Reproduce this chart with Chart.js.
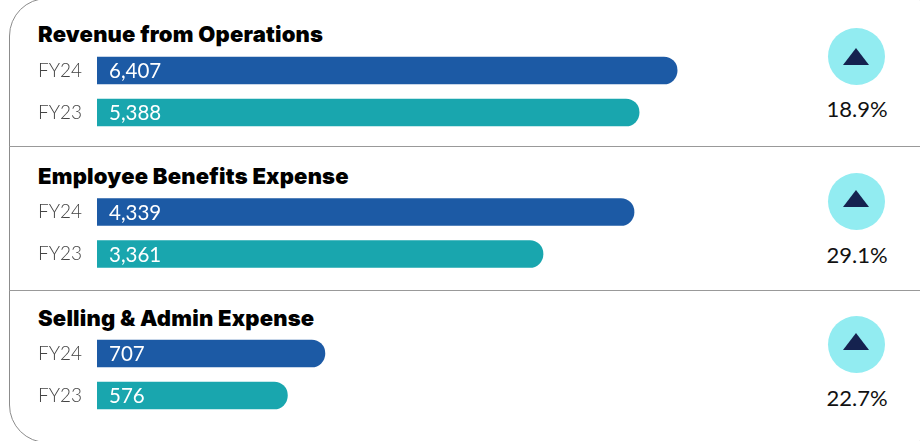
<!DOCTYPE html>
<html>
<head>
<meta charset="utf-8">
<script src="https://cdn.jsdelivr.net/npm/chart.js@4"></script>
<style>
  html, body { margin: 0; padding: 0; background: #fff; }
  body { position: relative; width: 920px; height: 441px; overflow: hidden; font-family: Lato, sans-serif; }
  .frame { position: absolute; left: 9px; top: -2px; width: 940px; height: 445px; border: 1px solid #8c8c8c; border-radius: 38px; box-sizing: border-box; }
  .divider { position: absolute; left: 9px; width: 911px; height: 1px; background: #999; }
  .title { position: absolute; left: 38px; font-family: Inter, sans-serif; font-size: 22px; font-weight: 900; letter-spacing: 0.2px; color: #000; line-height: 28px; white-space: nowrap; }
  .circle { position: absolute; left: 828px; width: 57px; height: 57px; border-radius: 50%; background: #92ecf1; }
  .triangle { position: absolute; left: 843px; width: 0; height: 0; border-left: 13px solid transparent; border-right: 13px solid transparent; border-bottom: 17.5px solid #15224f; }
  .pct { position: absolute; left: 796px; width: 122px; text-align: center; font-size: 22px; font-weight: 400; color: #111; line-height: 28px; }
  canvas { position: absolute; left: 0; }
</style>
</head>
<body>
<div class="frame"></div>
<div class="divider" style="top:146px"></div>
<div class="divider" style="top:290px"></div>
<canvas id="chart0" width="700" height="85" style="top:49px"></canvas>
<canvas id="chart1" width="700" height="85" style="top:191px"></canvas>
<canvas id="chart2" width="700" height="85" style="top:332px"></canvas>
<script>
const titles = ['Revenue from Operations', 'Employee Benefits Expense', 'Selling & Admin Expense']
const years = ['FY24', 'FY23']
const revenue = [6407, 5388]
const employee = [4339, 3361]
const selling = [707, 576]
const growth = ['18.9%', '29.1%', '22.7%']

// The source bars are not proportional to zero, every panel has its own offset axis
const axisMin = [-9146, -1432, -89]
const axisMax = [7020, 5048, 2017]

const barColors = ['#1c5aa5', '#19a6ae']
const padTops = [0.5, 0, 0.5]
const titleTops = [20, 162, 304]
const circleTops = [28, 173, 316]
const triangleTops = [47.5, 189.5, 332.5]
const pctTops = [95, 241, 384]

// White value text at the start of each bar
const valueLabels = {
  id: 'valueLabels',
  afterDatasetsDraw(chart) {
    const ctx = chart.ctx
    const meta = chart.getDatasetMeta(0)
    ctx.save()
    ctx.font = '400 20.5px Lato'
    ctx.fillStyle = '#fff'
    ctx.textAlign = 'left'
    ctx.textBaseline = 'middle'
    meta.data.forEach((bar, i) => {
      ctx.fillText(chart.data.datasets[0].data[i].toLocaleString('en-US'), chart.chartArea.left + 12, bar.y + 1)
    })
    ctx.restore()
  }
}

function drawPanel(index, values) {
  new Chart(document.getElementById('chart' + index), {
    type: 'bar',
    data: {
      labels: years,
      datasets: [
        {
          data: values,
          backgroundColor: barColors,
          base: axisMin[index],
          barThickness: 27,
          borderSkipped: false,
          borderRadius: { topLeft: 0, bottomLeft: 0, topRight: 13.5, bottomRight: 13.5 }
        }
      ]
    },
    options: {
      indexAxis: 'y',
      responsive: false,
      animation: false,
      layout: { padding: { left: 38, top: padTops[index], bottom: 1 - padTops[index], right: 0 } },
      plugins: {
        legend: { display: false },
        tooltip: { enabled: false }
      },
      scales: {
        x: {
          display: false,
          min: axisMin[index],
          max: axisMax[index]
        },
        y: {
          afterFit(axis) {
            axis.width = 59
            // tick labels would otherwise eat into the plot height
            axis.paddingTop = 0
            axis.paddingBottom = 0
          },
          border: { display: false },
          grid: { display: false },
          ticks: {
            crossAlign: 'far',
            padding: 0,
            color: '#444',
            font: { family: 'Lato', size: 19, weight: 300 }
          }
        }
      }
    },
    plugins: [valueLabels]
  })
}

drawPanel(0, revenue)
drawPanel(1, employee)
drawPanel(2, selling)

titles.forEach((text, i) => {
  const title = document.createElement('div')
  title.className = 'title'
  title.style.top = titleTops[i] + 'px'
  title.textContent = text
  document.body.appendChild(title)

  const circle = document.createElement('div')
  circle.className = 'circle'
  circle.style.top = circleTops[i] + 'px'
  document.body.appendChild(circle)

  const triangle = document.createElement('div')
  triangle.className = 'triangle'
  triangle.style.top = triangleTops[i] + 'px'
  document.body.appendChild(triangle)

  const pct = document.createElement('div')
  pct.className = 'pct'
  pct.style.top = pctTops[i] + 'px'
  pct.textContent = growth[i]
  document.body.appendChild(pct)
})
</script>
</body>
</html>
